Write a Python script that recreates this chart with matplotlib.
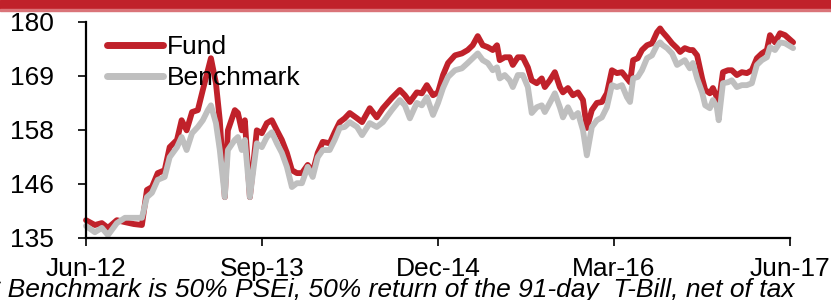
import pandas as pd
import numpy as np
import matplotlib
matplotlib.use("Agg")
import matplotlib.pyplot as plt
from matplotlib.patches import Rectangle

plt.rcParams["font.family"] = ["Liberation Sans", "DejaVu Sans"]

# Fund vs Benchmark
fechas = [
    "2012-06-01", "2012-06-24", "2012-07-12", "2012-07-28", "2012-08-20", "2012-09-10",
    "2012-10-03", "2012-10-24", "2012-11-06", "2012-11-19", "2012-12-04", "2012-12-22",
    "2013-01-04", "2013-01-23", "2013-02-04", "2013-02-17", "2013-03-03", "2013-03-18",
    "2013-03-31", "2013-04-13", "2013-04-21", "2013-05-04", "2013-05-14", "2013-05-27",
    "2013-06-04", "2013-06-22", "2013-06-30", "2013-07-10", "2013-07-18", "2013-07-31",
    "2013-08-18", "2013-08-31", "2013-09-13", "2013-09-26", "2013-10-09", "2013-10-22",
    "2013-11-04", "2013-11-17", "2013-11-30", "2013-12-13", "2013-12-28", "2014-01-10",
    "2014-01-23", "2014-02-05", "2014-02-23", "2014-03-08", "2014-03-21", "2014-04-03",
    "2014-04-16", "2014-05-05", "2014-05-18", "2014-06-07", "2014-06-25", "2014-07-11",
    "2014-08-03", "2014-08-24", "2014-09-06", "2014-09-19", "2014-10-07", "2014-10-20",
    "2014-11-02", "2014-11-18", "2014-12-01", "2014-12-14", "2014-12-27", "2015-01-14",
    "2015-02-01", "2015-02-16", "2015-03-01", "2015-03-14", "2015-03-27", "2015-04-09",
    "2015-04-22", "2015-05-03", "2015-05-10", "2015-05-23", "2015-06-05", "2015-06-13",
    "2015-06-26", "2015-07-09", "2015-07-22", "2015-08-01", "2015-08-14", "2015-08-27",
    "2015-09-04", "2015-09-17", "2015-09-30", "2015-10-13", "2015-10-21", "2015-11-03",
    "2015-11-16", "2015-11-29", "2015-12-12", "2015-12-22", "2016-01-04", "2016-01-17",
    "2016-01-30", "2016-02-12", "2016-02-25", "2016-03-09", "2016-03-22", "2016-04-04",
    "2016-04-12", "2016-04-20", "2016-05-02", "2016-05-13", "2016-05-26", "2016-06-08",
    "2016-06-21", "2016-06-29", "2016-07-06", "2016-07-17", "2016-07-30", "2016-08-12",
    "2016-08-20", "2016-09-01", "2016-09-14", "2016-09-22", "2016-10-03", "2016-10-16",
    "2016-10-24", "2016-11-05", "2016-11-13", "2016-11-23", "2016-11-28", "2016-12-09",
    "2016-12-22", "2017-01-01", "2017-01-14", "2017-01-27", "2017-02-09", "2017-02-22",
    "2017-03-07", "2017-03-20", "2017-04-02", "2017-04-10", "2017-04-23", "2017-05-06",
    "2017-05-19", "2017-06-09",
]
fund = [
    138.7, 137.7, 138.1, 137.1, 138.7, 138.3, 137.9, 137.7, 145.0, 145.6, 148.5, 149.1,
    153.9, 155.4, 159.5, 157.4, 161.2, 161.6, 165.8, 169.9, 172.4, 167.2, 159.5, 143.5,
    157.4, 161.6, 161.0, 157.4, 159.5, 143.5, 157.4, 156.8, 158.9, 159.5, 157.4, 155.4,
    152.7, 149.1, 148.5, 148.5, 150.2, 148.7, 152.7, 155.0, 154.7, 157.0, 159.1, 159.9,
    161.0, 159.9, 159.1, 162.0, 160.1, 162.0, 164.1, 165.8, 164.7, 163.3, 165.3, 165.1,
    166.8, 164.7, 165.3, 168.9, 171.4, 173.0, 173.4, 174.1, 175.1, 177.0, 175.1, 174.7,
    174.1, 175.1, 172.0, 172.6, 172.6, 171.0, 172.6, 172.6, 170.5, 167.8, 167.2, 168.2,
    166.4, 167.8, 169.5, 166.4, 165.3, 166.2, 164.7, 165.3, 163.7, 157.9, 161.6, 163.1,
    163.3, 165.1, 169.9, 169.3, 169.5, 168.2, 167.4, 172.0, 172.4, 174.1, 175.1, 175.5,
    177.8, 178.6, 177.8, 176.8, 175.5, 174.5, 173.7, 174.5, 174.1, 174.1, 173.0, 168.2,
    165.8, 165.1, 166.2, 164.3, 163.1, 169.5, 169.9, 169.9, 168.9, 169.5, 169.3, 169.9,
    172.4, 173.4, 174.1, 177.2, 175.7, 177.6, 177.2, 175.7,
]
benchmark = [
    137.5, 136.2, 137.1, 135.6, 138.1, 139.2, 139.2, 139.2, 143.5, 144.4, 147.1, 147.7,
    151.8, 153.9, 156.0, 153.3, 156.8, 158.1, 159.5, 161.6, 162.6, 158.9, 153.3, 143.5,
    153.3, 155.4, 156.0, 153.3, 155.4, 143.5, 154.7, 153.9, 156.0, 157.0, 154.7, 152.7,
    149.8, 145.6, 146.4, 146.4, 149.8, 147.7, 151.8, 153.3, 153.3, 155.4, 157.9, 158.1,
    159.1, 158.1, 156.4, 158.9, 158.1, 159.1, 161.6, 163.7, 162.6, 159.9, 163.1, 162.6,
    164.3, 160.6, 163.1, 166.2, 168.5, 169.9, 170.3, 171.4, 172.4, 173.4, 172.0, 171.4,
    169.9, 170.5, 168.2, 168.9, 167.8, 166.4, 168.9, 168.9, 166.4, 161.0, 162.2, 162.6,
    161.2, 163.1, 165.1, 162.2, 160.1, 162.2, 160.1, 161.0, 157.4, 152.2, 158.1, 159.5,
    160.1, 162.2, 166.8, 166.4, 166.8, 164.3, 163.3, 168.2, 168.5, 169.9, 172.4, 173.0,
    175.1, 175.7, 175.1, 174.5, 173.4, 171.0, 171.4, 172.0, 170.3, 171.4, 168.2, 165.3,
    162.6, 162.0, 163.7, 162.2, 159.5, 167.2, 167.4, 167.8, 166.4, 166.8, 166.8, 167.2,
    171.0, 172.0, 172.6, 174.7, 174.1, 175.7, 175.5, 174.5,
]
etiquetas_x = ["Jun-12", "Sep-13", "Dec-14", "Mar-16", "Jun-17"]
fechas_x = ["2012-06-01", "2013-09-01", "2014-12-01", "2016-03-01", "2017-06-01"]
ticks_y = np.linspace(135, 180, 5)

fechas = pd.to_datetime(fechas)
ROJO = "#C0212A"
GRIS = "#BFBFBF"

fig = plt.figure(figsize=(8.31, 3.0), dpi=100)
ax = fig.add_axes([0.1035, 0.2067, 0.8472, 0.7210])

ax.plot(fechas, fund, color=ROJO, linewidth=4.2, label="Fund", clip_on=False,
        solid_capstyle="round", solid_joinstyle="round")
ax.plot(fechas, benchmark, color=GRIS, linewidth=4.2, label="Benchmark", clip_on=False,
        solid_capstyle="round", solid_joinstyle="round")

ax.set_ylim(135, 180)
ax.set_yticks(ticks_y)
ax.set_yticklabels([f"{v:.0f}" for v in ticks_y])
ax.set_xlim(pd.Timestamp("2012-06-01"), pd.Timestamp("2017-06-01"))
ax.set_xticks(pd.to_datetime(fechas_x))
ax.set_xticklabels(etiquetas_x)

for s in ["top", "right"]:
    ax.spines[s].set_visible(False)
for s in ["left", "bottom"]:
    ax.spines[s].set_linewidth(1.6)
ax.tick_params(axis="both", labelsize=19, width=1.2, length=6, direction="out")
ax.tick_params(axis="y", pad=17)
ax.tick_params(axis="x", pad=8)

leg = ax.legend(loc="upper left", bbox_to_anchor=(0.015, 0.985), frameon=False,
                fontsize=19, handlelength=2.1, handletextpad=0.15, labelspacing=0.25,
                borderaxespad=0.0)
for linea in leg.get_lines():
    linea.set_linewidth(5)

# banda roja superior
fig.patches.append(Rectangle((0, 0.968), 1, 0.032, transform=fig.transFigure,
                             color=ROJO, zorder=0))
fig.patches.append(Rectangle((0, 0.962), 1, 0.007, transform=fig.transFigure,
                             color="#DA7479", zorder=0))

fig.text(-0.012, 0.01, "* Benchmark is 50% PSEi, 50% return of the 91-day  T-Bill, net of tax",
         fontsize=19, style="italic", ha="left", va="baseline")

fig.savefig("out.png", dpi=100)
